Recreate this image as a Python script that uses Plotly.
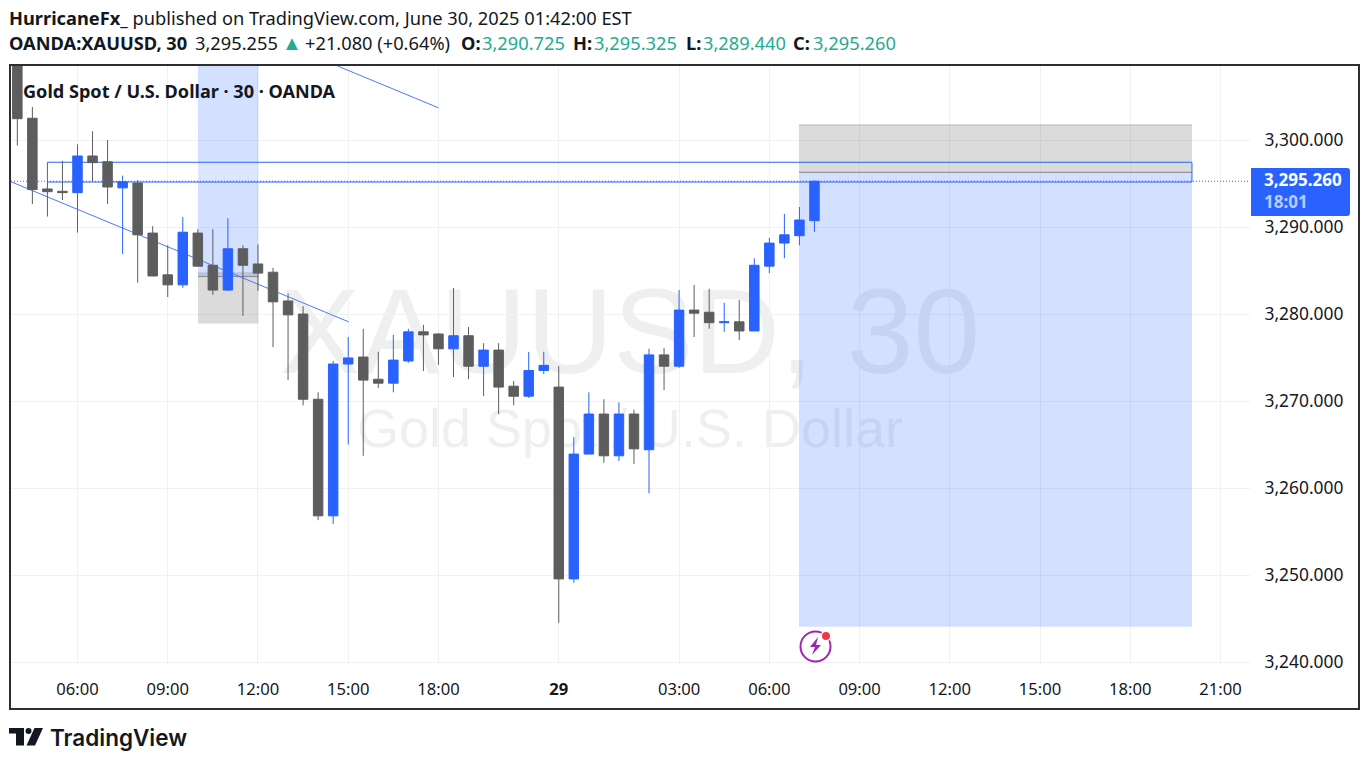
import plotly.graph_objects as go

W, H = 1369, 764

bars = list(range(-4, 50))
opens = [3312, 3302.5, 3294.37, 3294.1, 3293.95, 3298.16, 3297.5, 3294.5, 3295.05, 3289.3,
         3284.5, 3283.35, 3289.3, 3285.6, 3282.75, 3287.5, 3285.75, 3284.8, 3281.5, 3280,
         3270.2, 3256.8, 3274.25, 3275.05, 3272.5, 3272.05, 3274.6, 3277.95, 3277.7, 3276,
         3277.5, 3274, 3275.85, 3271.7, 3270.55, 3273.5, 3271.6, 3249.55, 3263.9, 3268.5,
         3263.7, 3268.5, 3264.4, 3275.3, 3274, 3280.45, 3280.2, 3279, 3279.1, 3278.05,
         3285.5, 3288.15, 3289, 3290.725]
highs = [3314, 3303.8, 3295.2, 3297.6, 3299.5, 3301, 3300, 3295.9, 3295.4, 3290.1,
         3287.9, 3291.15, 3289.75, 3289.75, 3291, 3287.9, 3288, 3285.3, 3282.4, 3280.9,
         3271, 3274.6, 3277.35, 3278.3, 3275.65, 3277.6, 3278.3, 3278.75, 3277.8, 3283,
         3278.5, 3276.65, 3276.65, 3272.3, 3275.65, 3275.65, 3274, 3265.85, 3271, 3270.2,
         3269.85, 3269, 3276, 3276.1, 3282.75, 3283.35, 3282.9, 3281.3, 3281.6, 3286.4,
         3288.75, 3291.5, 3292.3, 3295.325]
lows = [3299.35, 3292.65, 3291.2, 3293.1, 3289.35, 3295.2, 3292.65, 3286.9, 3283.6, 3284.37,
        3281.95, 3283, 3285.5, 3282.2, 3282.65, 3279.8, 3282.65, 3276.2, 3272.4, 3269.5,
        3256.3, 3255.85, 3265, 3263.7, 3271.5, 3271, 3274.4, 3273.45, 3274.15, 3272.75,
        3272.5, 3270.55, 3268.5, 3269.5, 3270.35, 3273.1, 3244.5, 3249.1, 3263.9, 3262.9,
        3263.1, 3262.75, 3259.4, 3271.25, 3273.8, 3277.35, 3278.3, 3277.95, 3277, 3278.05,
        3284.7, 3286.4, 3287.9, 3289.44]
closes = [3302.45, 3294.3, 3294.06, 3293.95, 3298.16, 3297.4, 3294.6, 3295.2, 3289.1, 3284.37,
          3283.35, 3289.4, 3285.5, 3282.75, 3287.5, 3285.6, 3284.7, 3281.4, 3279.9, 3270.2,
          3256.8, 3274.25, 3274.95, 3272.4, 3272.05, 3274.7, 3277.95, 3277.6, 3276, 3277.5,
          3274, 3275.85, 3271.6, 3270.55, 3273.5, 3274.1, 3249.55, 3263.9, 3268.5, 3263.7,
          3268.5, 3264.5, 3275.3, 3274, 3280.45, 3280.1, 3279, 3279.1, 3278.05, 3285.6,
          3288.15, 3289.1, 3290.8, 3295.26]

time_ticks = [0, 6, 12, 18, 24, 32, 40, 46, 52, 58, 64, 70, 76]
time_labels = ["06:00", "09:00", "12:00", "15:00", "18:00", "<b>29</b>", "03:00", "06:00",
               "09:00", "12:00", "15:00", "18:00", "21:00"]
price_ticks = [3240, 3250, 3260, 3270, 3280, 3290, 3300]
price_labels = ["3,240.000", "3,250.000", "3,260.000", "3,270.000", "3,280.000", "3,290.000", "3,300.000"]

BLUE = "#2962ff"
GRAY = "#5d5d5d"
INK = "#131722"
TEAL = "#22ab94"
FONT = "Noto Sans"
HEAD = 18.25

# pixel to paper helpers for the page furniture
px = lambda x: x / W
py = lambda y: 1 - y / H

PL, PR, PT, PB = 11, 1250, 66, 665
bar0, step = 77.5, 15.04
xr = [(PL - bar0) / step, (PR - bar0) / step]
yr = [3300 - (PB - 140) / 8.7, 3300 + (140 - PT) / 8.7]

fig = go.Figure(go.Candlestick(
    x=bars, open=opens, high=highs, low=lows, close=closes,
    increasing=dict(line=dict(color=BLUE, width=1), fillcolor=BLUE),
    decreasing=dict(line=dict(color=GRAY, width=1), fillcolor=GRAY),
    whiskerwidth=0, showlegend=False, hoverinfo="skip"))


def paper_rect(x0, y0, x1, y1, **kw):
    return dict(type="rect", xref="paper", yref="paper", x0=px(x0), x1=px(x1), y0=py(y1), y1=py(y0), **kw)


def paper_path(points, **kw):
    d = "M " + " L ".join(f"{px(a):.5f},{py(b):.5f}" for a, b in points) + " Z"
    return dict(type="path", xref="paper", yref="paper", path=d, **kw)


def data_rect(x0, x1, y0, y1, fill, line=None, layer="between", lw=1):
    return dict(type="rect", xref="x", yref="y", x0=x0, x1=x1, y0=y0, y1=y1, fillcolor=fill,
                line=dict(color=line or "rgba(0,0,0,0)", width=lw if line else 0), layer=layer)


def data_line(x0, x1, y0, y1, color, width=1, dash="solid", layer="between"):
    return dict(type="line", xref="x", yref="y", x0=x0, x1=x1, y0=y0, y1=y1,
                line=dict(color=color, width=width, dash=dash), layer=layer)


FILL_BLUE = "rgba(41,98,255,0.2)"
FILL_GRAY = "rgba(93,93,93,0.22)"
WM = "rgba(42,46,57,0.08)"
shapes = [
    paper_rect(180, 262, 1080, 377, fillcolor="rgba(0,0,0,0)", line=dict(width=0), layer="below",
               label=dict(text="XAUUSD, 30", font=dict(family="Liberation Sans", size=120, color=WM),
                          textposition="middle center")),
    paper_rect(180, 388, 1080, 458, fillcolor="rgba(0,0,0,0)", line=dict(width=0), layer="below",
               label=dict(text="Gold Spot / U.S. Dollar", font=dict(family="Liberation Sans", size=54, color=WM),
                          textposition="middle center")),
    # small long position, mid-chart
    data_rect(8.01, 12.03, 3284.3, 3320, FILL_BLUE),
    data_rect(8.01, 12.03, 3278.9, 3284.8, FILL_GRAY),
    data_line(8.01, 12.03, 3284.3, 3284.3, "#8a8a8a"),
    # supply box fill
    data_rect(-2, 74.1, 3295.17, 3297.44, "rgba(255,255,255,0.2)"),
    # large position at the right
    data_rect(47.97, 74.1, 3244.06, 3296.29, FILL_BLUE),
    data_rect(47.97, 74.1, 3296.29, 3301.72, FILL_GRAY),
    data_line(47.97, 74.1, 3301.72, 3301.72, "#b5b5b5"),
    data_line(47.97, 74.1, 3296.29, 3296.29, "#808080"),
    # supply box outline and trend lines
    data_rect(-2, 74.1, 3295.17, 3297.44, "rgba(0,0,0,0)", line=BLUE),
    data_line(xr[0], 18.03, 3295.2, 3279.1, "#4a7bff"),
    data_line(17.3, 24, 3308.5, 3303.7, "#4a7bff"),
    # last price line
    data_line(xr[0], xr[1], 3295.26, 3295.26, BLUE, dash="1px,2px", layer="above"),
    # frame
    paper_rect(10, 65, 1359, 709, fillcolor="rgba(0,0,0,0)", line=dict(color="#2e2e2e", width=2), layer="above"),
    # last price tag
    dict(type="path", xref="paper", yref="paper", fillcolor=BLUE, line=dict(width=0), layer="above",
         path=(f"M {px(1251)},{py(168)} L {px(1347)},{py(168)} Q {px(1350)},{py(168)} {px(1350)},{py(171)} "
               f"L {px(1350)},{py(213)} Q {px(1350)},{py(216)} {px(1347)},{py(216)} L {px(1251)},{py(216)} Z")),
    # alert icon
    dict(type="circle", xref="paper", yref="paper", x0=px(800.5), x1=px(830.5), y0=py(661.5), y1=py(631.5),
         fillcolor="rgba(255,255,255,0)", line=dict(color="#9c27b0", width=2), layer="above"),
    paper_path([(818, 637), (810, 647), (815, 647), (812, 655), (821, 645), (816, 645)],
               fillcolor="#9c27b0", line=dict(width=0), layer="above"),
    dict(type="circle", xref="paper", yref="paper", x0=px(820.5), x1=px(831.5), y0=py(641.5), y1=py(630.5),
         fillcolor="#ffffff", line=dict(width=0), layer="above"),
    dict(type="circle", xref="paper", yref="paper", x0=px(822), x1=px(830), y0=py(640), y1=py(632),
         fillcolor="#f23645", line=dict(width=0), layer="above"),
    # brand mark
    paper_path([(9, 728), (24, 728), (24, 745.5), (16, 745.5), (16, 733.5), (9, 733.5)],
               fillcolor=INK, line=dict(width=0), layer="above"),
    dict(type="circle", xref="paper", yref="paper", x0=px(25.5), x1=px(31.5), y0=py(734), y1=py(728),
         fillcolor=INK, line=dict(width=0), layer="above"),
    paper_path([(34.5, 728), (43, 728), (35, 745.5), (26.5, 745.5)],
               fillcolor=INK, line=dict(width=0), layer="above"),
]


def note(x, y, text, size=HEAD, color=INK, family=FONT, anchor="left", weight=None):
    f = dict(family=family, size=size, color=color)
    if weight:
        f["weight"] = weight
    return dict(xref="paper", yref="paper", x=px(x), y=py(y), xanchor=anchor, yanchor="middle",
                text=text, showarrow=False, align=anchor, font=f, borderpad=0, borderwidth=0)


annotations = [
    note(9, 18, "<b>HurricaneFx_</b> published on TradingView.com, June 30, 2025 01:42:00 EST"),
    note(9, 43, "<b>OANDA:XAUUSD, 30</b>"),
    note(195, 43, "3,295.255"),
    note(282, 42, "▲", size=20, color=TEAL),
    note(305, 43, "+21.080 (+0.64%)"),
    note(461, 43, "<b>O:</b>"), note(482, 43, "3,290.725", color=TEAL),
    note(573, 43, "<b>H:</b>"), note(594, 43, "3,295.325", color=TEAL),
    note(686, 43, "<b>L:</b>"), note(703, 43, "3,289.440", color=TEAL),
    note(793, 43, "<b>C:</b>"), note(813, 43, "3,295.260", color=TEAL),
    note(23, 90.5, "<b>Gold Spot / U.S. Dollar · 30 · OANDA</b>", size=18.1),
    note(1264, 190.5, "<b>3,295.260</b><br><b><span style=\"color:#b8ccff\">18:01</span></b>", size=17, color="#ffffff"),
    note(50, 737, "TradingView", size=22.5, family="Inter", weight=600),
]

fig.update_layout(
    width=W, height=H, margin=dict(l=0, r=0, t=0, b=0), autosize=False,
    paper_bgcolor="#ffffff", plot_bgcolor="#ffffff", showlegend=False,
    boxgap=0.3, boxgroupgap=0.1,
    shapes=shapes, annotations=annotations,
    xaxis=dict(domain=[px(PL), px(PR)], range=xr, rangeslider=dict(visible=False),
               tickmode="array", tickvals=time_ticks, ticktext=time_labels,
               ticks="outside", ticklen=9, tickcolor="rgba(0,0,0,0)", showline=False, zeroline=False,
               showgrid=True, gridcolor="#f0f1f4", gridwidth=1,
               tickfont=dict(family=FONT, size=16.6, color=INK), automargin=False),
    yaxis=dict(domain=[py(PB), py(PT)], range=yr, side="right",
               tickmode="array", tickvals=price_ticks, ticktext=price_labels,
               ticks="outside", ticklen=10, tickcolor="rgba(0,0,0,0)", showline=False, zeroline=False,
               showgrid=True, gridcolor="#f0f1f4", gridwidth=1,
               tickfont=dict(family=FONT, size=17.4, color=INK), automargin=False),
)

fig.write_html("out.html", config=dict(displayModeBar=False),
               post_script="document.body.style.margin='0';document.documentElement.style.overflow='hidden';")
